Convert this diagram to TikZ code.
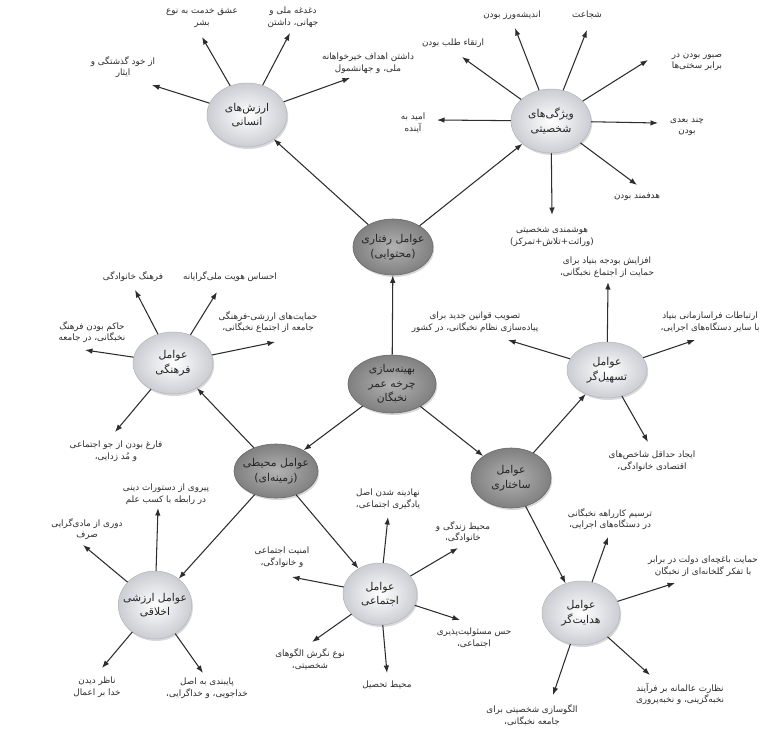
\documentclass[tikz,border=0pt]{standalone}
\usepackage{fontspec}
\usetikzlibrary{arrows.meta,shadows,shapes.geometric}
\newfontfamily\fa[Script=Arabic]{DejaVu Sans}
\TeXXeTstate=1
\newcommand\rl[1]{\beginR#1\endR}
\definecolor{ink}{RGB}{45,45,45}
\definecolor{lightout}{RGB}{203,205,211}
\definecolor{lightedge}{RGB}{180,182,188}
\definecolor{darkin}{RGB}{178,178,178}
\definecolor{darkout}{RGB}{128,128,128}
\definecolor{darkedge}{RGB}{105,105,105}
\begin{document}
\begin{tikzpicture}[x=1pt,y=-1pt,
  leaf/.style={font=\fa\fontsize{8.8}{11.5}\selectfont, text=ink, align=center, inner sep=1pt},
  base/.style={ellipse, inner sep=-6pt, align=center, font=\fa\fontsize{10.8}{14.5}\selectfont,
    drop shadow={shadow xshift=1.2pt,shadow yshift=-2pt,opacity=.3}},
  lightnode/.style={base, draw=lightedge, line width=.5pt, inner color=white, outer color=lightout, text=black!85},
  darknode/.style={base, draw=darkedge, line width=.6pt, inner color=darkin, outer color=darkout, text=black!85},
  arr/.style={draw=ink, line width=1.05pt, -{Latex[length=7.5pt,width=5.5pt]}},
]
\fill[white] (0,0) rectangle (770,734);
\useasboundingbox (0,0) rectangle (770,734);

% main nodes
\node[darknode, minimum width=88, minimum height=58] (C) at (392,384) {\rl{بهینه‌سازی}\\\rl{چرخه عمر}\\\rl{نخبگان}};
\node[darknode, minimum width=80, minimum height=56] (R) at (393,247) {\rl{عوامل رفتاری}\\\rl{(محتوایی)}};
\node[lightnode, minimum width=80, minimum height=64] (H) at (247,115) {\rl{ارزش‌های}\\\rl{انسانی}};
\node[lightnode, minimum width=80, minimum height=64] (V) at (551,121) {\rl{ویژگی‌های}\\\rl{شخصیتی}};
\node[lightnode, minimum width=80, minimum height=62] (F) at (173,363) {\rl{عوامل}\\\rl{فرهنگی}};
\node[lightnode, minimum width=80, minimum height=56] (T) at (607,370) {\rl{عوامل}\\\rl{تسهیل‌گر}};
\node[darknode, minimum width=84, minimum height=54] (M) at (276,471) {\rl{عوامل محیطی}\\\rl{(زمینه‌ای)}};
\node[darknode, minimum width=80, minimum height=60] (S) at (511,478) {\rl{عوامل}\\\rl{ساختاری}};
\node[lightnode, minimum width=72, minimum height=68] (A) at (155,605) {\rl{عوامل ارزشی}\\\rl{اخلاقی}};
\node[lightnode, minimum width=74, minimum height=62] (J) at (380,594) {\rl{عوامل}\\\rl{اجتماعی}};
\node[lightnode, minimum width=78, minimum height=64] (D) at (581,613) {\rl{عوامل}\\\rl{هدایت‌گر}};

% leaf texts
\node[leaf] (l1) at (123,67) {\rl{از خود گذشتگی و}\\\rl{ایثار}};
\node[leaf] (l2) at (202,18) {\rl{عشق خدمت به نوع}\\\rl{بشر}};
\node[leaf] (l3) at (293,17) {\rl{دغدغه ملی و}\\\rl{جهانی، داشتن}};
\node[leaf] (l4) at (368,63) {\rl{داشتن اهداف خیرخواهانه}\\\rl{ملی، و جهانشمول}};
\node[leaf] (l5) at (453,43) {\rl{ارتقاء طلب بودن}};
\node[leaf] (l6) at (512,15) {\rl{اندیشه‌ورز بودن}};
\node[leaf] (l7) at (587,15) {\rl{شجاعت}};
\node[leaf] (l8) at (697,62) {\rl{صبور بودن در}\\\rl{برابر سختی‌ها}};
\node[leaf] (l9) at (687,127) {\rl{چند بعدی}\\\rl{بودن}};
\node[leaf] (l10) at (637,197) {\rl{هدفمند بودن}};
\node[leaf] (l11) at (552,237) {\rl{هوشمندی شخصیتی}\\\rl{(وراثت+تلاش+تمرکز)}};
\node[leaf] (l12) at (413,123) {\rl{امید به}\\\rl{آینده}};
\node[leaf] (l13) at (133,277) {\rl{فرهنگ خانوادگی}};
\node[leaf] (l14) at (230,277) {\rl{احساس هویت ملی‌گرایانه}};
\node[leaf] (l15) at (92,332) {\rl{حاکم بودن فرهنگ}\\\rl{نخبگانی، در جامعه}};
\node[leaf] (l16) at (268,322) {\rl{حمایت‌های ارزشی-فرهنگی}\\\rl{جامعه از اجتماع نخبگانی،}};
\node[leaf] (l17) at (116,451) {\rl{فارغ بودن از جو اجتماعی}\\\rl{و مُد زدایی،}};
\node[leaf] (l18) at (607,267) {\rl{افزایش بودجه بنیاد برای}\\\rl{حمایت از اجتماع نخبگانی،}};
\node[leaf] (l19) at (710,322) {\rl{ارتباطات فراسازمانی بنیاد}\\\rl{با سایر دستگاه‌های اجرایی،}};
\node[leaf] (l20) at (475,322) {\rl{تصویب قوانین جدید برای}\\\rl{پیاده‌سازی نظام نخبگانی، در کشور}};
\node[leaf] (l21) at (652,461) {\rl{ایجاد حداقل شاخص‌های}\\\rl{اقتصادی خانوادگی،}};
\node[leaf] (l22) at (610,519) {\rl{ترسیم کارراهه نخبگانی}\\\rl{در دستگاه‌های اجرایی،}};
\node[leaf] (l23) at (703,566) {\rl{حمایت باغچه‌ای دولت در برابر}\\\rl{با تفکر گلخانه‌ای از نخبگان}};
\node[leaf] (l24) at (680,694) {\rl{نظارت عالمانه بر فرآیند}\\\rl{نخبه‌گزینی، و نخبه‌پروری}};
\node[leaf] (l25) at (532,715) {\rl{الگوسازی شخصیتی برای}\\\rl{جامعه نخبگانی،}};
\node[leaf] (l26) at (166,494) {\rl{پیروی از دستورات دینی}\\\rl{در رابطه با کسب علم}};
\node[leaf] (l27) at (87,529) {\rl{دوری از مادی‌گرایی}\\\rl{صرف}};
\node[leaf] (l28) at (97,687) {\rl{ناظر دیدن}\\\rl{خدا بر اعمال}};
\node[leaf] (l29) at (207,688) {\rl{پایبندی به اصل}\\\rl{خداجویی، و خداگرایی،}};
\node[leaf] (l30) at (388,499) {\rl{نهادینه شدن اصل}\\\rl{یادگیری اجتماعی،}};
\node[leaf] (l31) at (463,532) {\rl{محیط زندگی و}\\\rl{خانوادگی،}};
\node[leaf] (l32) at (282,557) {\rl{امنیت اجتماعی}\\\rl{و خانوادگی،}};
\node[leaf] (l33) at (310,659) {\rl{نوع نگرش الگوهای}\\\rl{شخصیتی،}};
\node[leaf] (l34) at (387,685) {\rl{محیط تحصیل}};
\node[leaf] (l35) at (474,638) {\rl{حس مسئولیت‌پذیری}\\\rl{اجتماعی،}};

% arrow tips
\coordinate (t1) at (152,85);  \coordinate (t2) at (202,37);  \coordinate (t3) at (290,33);
\coordinate (t4) at (350,78);  \coordinate (t5) at (462,57);  \coordinate (t6) at (515,28);
\coordinate (t7) at (587,30);  \coordinate (t8) at (648,60);  \coordinate (t9) at (658,123);
\coordinate (t10) at (637,185); \coordinate (t11) at (552,215); \coordinate (t12) at (437,120);
\coordinate (t13) at (135,290); \coordinate (t14) at (217,292); \coordinate (t15) at (85,350);
\coordinate (t16) at (275,342); \coordinate (t17) at (115,432); \coordinate (t18) at (608,282);
\coordinate (t19) at (695,340); \coordinate (t20) at (508,340); \coordinate (t21) at (648,442);
\coordinate (t22) at (608,537); \coordinate (t23) at (675,583); \coordinate (t24) at (650,675);
\coordinate (t25) at (553,695); \coordinate (t26) at (158,508); \coordinate (t27) at (83,545);
\coordinate (t28) at (102,668); \coordinate (t29) at (203,673); \coordinate (t30) at (388,517);
\coordinate (t31) at (458,548); \coordinate (t32) at (292,577); \coordinate (t33) at (312,642);
\coordinate (t34) at (387,673); \coordinate (t35) at (460,620);

% main connectors
\foreach \a/\b in {C/R, R/H, R/V, C/M, C/S, M/F, M/A, M/J, S/T, S/D}
  \draw[arr] (\a) -- (\b);

% leaf connectors
\foreach \a/\b in {H/t1,H/t2,H/t3,H/t4,V/t5,V/t6,V/t7,V/t8,V/t9,V/t10,V/t11,V/t12,
  F/t13,F/t14,F/t15,F/t16,F/t17,T/t18,T/t19,T/t20,T/t21,D/t22,D/t23,D/t24,D/t25,
  A/t26,A/t27,A/t28,A/t29,J/t30,J/t31,J/t32,J/t33,J/t34,J/t35}
  \draw[arr] (\a) -- (\b);
\end{tikzpicture}
\end{document}
